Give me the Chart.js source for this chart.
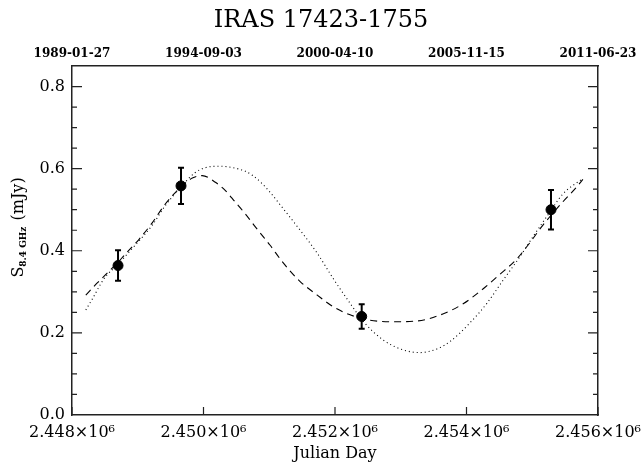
<!DOCTYPE html>
<html>
<head>
<meta charset="utf-8">
<script src="https://cdn.jsdelivr.net/npm/chart.js@4.4.1/dist/chart.umd.min.js"></script>
<style>
html, body { margin: 0; padding: 0; background: #fff; }
canvas { display: block; }
</style>
</head>
<body>
<canvas id="myChart" width="642" height="464"></canvas>
<script>
// observed flux points (Julian Day, mJy, error)
const obsJD = [2448700, 2449658, 2452406, 2455285];
const obsFlux = [0.364, 0.558, 0.240, 0.500];
const obsErr = [0.037, 0.044, 0.030, 0.048];

// dashed model curve
const dashJD = [2448210, 2448380, 2448500, 2448700, 2448800, 2449020, 2449220, 2449410, 2449660, 2449830,
                2449980, 2450180, 2450330, 2450480, 2450630, 2450770, 2450920, 2451010, 2451210, 2451470,
                2451730, 2451970, 2452230, 2452490, 2452880, 2453250, 2453640, 2453950, 2454250, 2454510,
                2454770, 2454970, 2455160, 2455470, 2455680, 2455770];
const dashFlux = [0.292, 0.321, 0.340, 0.372, 0.390, 0.428, 0.468, 0.512, 0.556, 0.577,
                  0.583, 0.567, 0.547, 0.519, 0.491, 0.462, 0.432, 0.414, 0.371, 0.325,
                  0.292, 0.264, 0.244, 0.232, 0.227, 0.229, 0.246, 0.271, 0.307, 0.343,
                  0.381, 0.421, 0.462, 0.520, 0.556, 0.574];

// dotted model curve
const dotJD = [2448210, 2448300, 2448500, 2448700, 2448800, 2449020, 2449220, 2449410, 2449660, 2449870,
               2450020, 2450240, 2450430, 2450630, 2450750, 2450890, 2451010, 2451210, 2451470, 2451730,
               2451970, 2452230, 2452430, 2452730, 2453030, 2453290, 2453550, 2453750, 2454050, 2454310,
               2454560, 2454810, 2455010, 2455220, 2455470, 2455770];
const dotFlux = [0.256, 0.280, 0.335, 0.366, 0.385, 0.424, 0.462, 0.508, 0.556, 0.590,
                 0.602, 0.606, 0.603, 0.594, 0.583, 0.564, 0.543, 0.503, 0.450, 0.394,
                 0.333, 0.272, 0.228, 0.183, 0.159, 0.152, 0.161, 0.179, 0.224, 0.272,
                 0.329, 0.385, 0.434, 0.483, 0.539, 0.576];

const xTicks = [2448000, 2450000, 2452000, 2454000, 2456000];
const xTickLabels = ["2.448×10⁶", "2.450×10⁶", "2.452×10⁶", "2.454×10⁶", "2.456×10⁶"];
const topDateLabels = ["1989-01-27", "1994-09-03", "2000-04-10", "2005-11-15", "2011-06-23"];
const yTicks = [0.0, 0.2, 0.4, 0.6, 0.8];

const serif = "'DejaVu Serif', serif";

// error bars, inward tick marks and the y title with subscript
const extras = {
    id: "extras",
    afterDatasetsDraw(chart) {
        const ctx = chart.ctx;
        const xs = chart.scales.x, ys = chart.scales.y;
        const a = chart.chartArea;
        ctx.save();
        ctx.strokeStyle = "#000";
        ctx.lineWidth = 2;
        for (let i = 0; i < obsJD.length; i++) {
            const px = xs.getPixelForValue(obsJD[i]);
            const top = ys.getPixelForValue(obsFlux[i] + obsErr[i]);
            const bot = ys.getPixelForValue(obsFlux[i] - obsErr[i]);
            ctx.beginPath();
            ctx.moveTo(px, top); ctx.lineTo(px, bot);
            ctx.moveTo(px - 3, top); ctx.lineTo(px + 3, top);
            ctx.moveTo(px - 3, bot); ctx.lineTo(px + 3, bot);
            ctx.stroke();
        }

        ctx.strokeStyle = "#222";
        ctx.lineWidth = 1.2;
        ctx.beginPath();
        xTicks.forEach(v => {
            const px = xs.getPixelForValue(v);
            ctx.moveTo(px, a.bottom); ctx.lineTo(px, a.bottom - 8);
        });
        for (let k = 1; k <= 16; k++) {
            const py = ys.getPixelForValue(k * 0.05);
            const len = (k % 4 === 0) ? 10 : 5;
            ctx.moveTo(a.left, py); ctx.lineTo(a.left + len, py);
            ctx.moveTo(a.right, py); ctx.lineTo(a.right - len, py);
        }
        ctx.stroke();

        // y axis title
        ctx.translate(19, 228);
        ctx.rotate(-Math.PI / 2);
        ctx.fillStyle = "#000";
        ctx.textBaseline = "middle";
        const big = "16px " + serif, small = "bold 9px " + serif;
        ctx.font = big;
        const wS = ctx.measureText("S").width;
        const wR = ctx.measureText(" (mJy)").width;
        ctx.font = small;
        const wSub = ctx.measureText("8.4 GHz").width;
        let x0 = -(wS + wSub + wR) / 2;
        ctx.font = big;
        ctx.fillText("S", x0, 0);
        ctx.font = small;
        ctx.fillText("8.4 GHz", x0 + wS, 5);
        ctx.font = big;
        ctx.fillText(" (mJy)", x0 + wS + wSub + 1, 0);
        ctx.restore();
    }
};

const frame = { display: true, color: "#222", width: 1.5 };
const noPad = s => { s.paddingLeft = 0; s.paddingRight = 0; };

new Chart(document.getElementById("myChart"), {
    type: "scatter",
    data: {
        datasets: [
            {
                data: dashJD.map((x, i) => ({ x: x, y: dashFlux[i] })),
                showLine: true, pointRadius: 0, borderColor: "#000", borderWidth: 1.1,
                borderDash: [7, 5], cubicInterpolationMode: "monotone"
            },
            {
                data: dotJD.map((x, i) => ({ x: x, y: dotFlux[i] })),
                showLine: true, pointRadius: 0, borderColor: "#000", borderWidth: 1.1,
                borderDash: [1, 3], cubicInterpolationMode: "monotone"
            },
            {
                data: obsJD.map((x, i) => ({ x: x, y: obsFlux[i] })),
                showLine: false, pointRadius: 5, backgroundColor: "#000", borderColor: "#000"
            }
        ]
    },
    options: {
        responsive: false,
        animation: false,
        layout: { padding: 0 },
        plugins: {
            legend: { display: false },
            tooltip: { enabled: false },
            title: {
                display: true, text: "IRAS 17423-1755", color: "#000",
                font: { family: serif, size: 24, weight: "normal" },
                padding: { top: 6, bottom: 0 }
            }
        },
        scales: {
            x: {
                type: "linear", position: "bottom", min: 2448000, max: 2456000,
                afterBuildTicks: s => { s.ticks = xTicks.map(v => ({ value: v })); },
                afterFit: s => { s.height = 49; noPad(s); },
                ticks: {
                    callback: (v, i) => xTickLabels[i], color: "#000", padding: 8,
                    font: { family: serif, size: 16 }, maxRotation: 0, autoSkip: false
                },
                grid: { display: false, drawTicks: false },
                border: frame,
                title: {
                    display: true, text: "Julian Day", color: "#000",
                    font: { family: serif, size: 16 }, padding: { top: 0, bottom: 1 }
                }
            },
            x2: {
                type: "linear", position: "top", min: 2448000, max: 2456000,
                afterBuildTicks: s => { s.ticks = xTicks.map(v => ({ value: v })); },
                afterFit: s => { s.height = 31.2; noPad(s); },
                ticks: {
                    callback: (v, i) => topDateLabels[i], color: "#000", padding: 5,
                    font: { family: serif, size: 12, weight: "bold" },
                    maxRotation: 0, autoSkip: false
                },
                grid: { display: false, drawTicks: false },
                border: frame
            },
            y: {
                min: 0, max: 0.85,
                afterBuildTicks: s => { s.ticks = yTicks.map(v => ({ value: v })); },
                afterFit: s => { s.width = 72; },
                ticks: {
                    callback: v => v.toFixed(1), color: "#000", padding: 7,
                    font: { family: serif, size: 16 }
                },
                grid: { display: false, drawTicks: false },
                border: frame
            },
            y2: {
                position: "right", min: 0, max: 0.85,
                afterFit: s => { s.width = 44; },
                ticks: { display: false },
                grid: { display: false, drawTicks: false },
                border: frame
            }
        }
    },
    plugins: [extras]
});
</script>
</body>
</html>
